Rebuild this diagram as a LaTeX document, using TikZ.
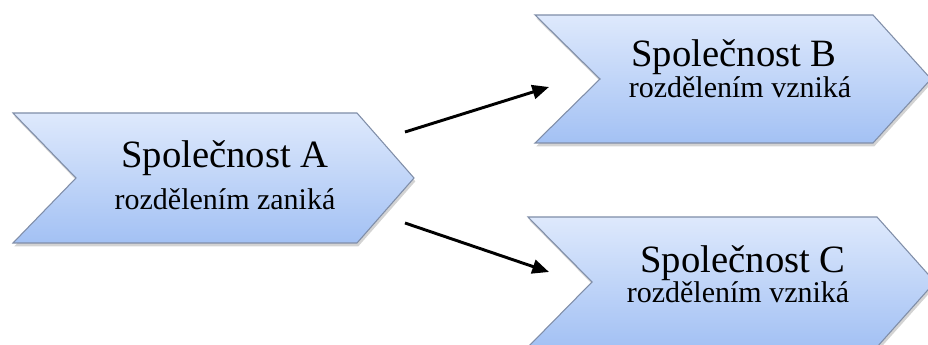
\documentclass[tikz,border=0pt]{standalone}
\usepackage{fontspec}
\setmainfont{Liberation Serif}
\usepackage{tikz}
\usetikzlibrary{arrows.meta,shadows}

\definecolor{chevtop}{RGB}{222,233,252}
\definecolor{chevbot}{RGB}{163,193,244}
\definecolor{chevline}{RGB}{128,142,168}

\tikzset{
  chev/.style={draw=chevline, line width=0.8pt, top color=chevtop, bottom color=chevbot,
    drop shadow={shadow xshift=1pt, shadow yshift=-2.5pt, opacity=0.35}},
  title/.style={anchor=base, inner sep=0pt, font=\rmfamily\fontsize{29}{33}\selectfont},
  sub/.style={anchor=base, inner sep=0pt, font=\rmfamily\fontsize{22.5}{26}\selectfont},
  link/.style={line width=2.2pt, -{Triangle[length=12.5pt,width=10.5pt]}}
}

\begin{document}
\begin{tikzpicture}[x=0.75pt,y=-0.75pt]
 \useasboundingbox (0,0) rectangle (928,345);
 \clip (0,0) rectangle (928,345);

 % chevrons
 \path [chev] (13,113) -- (357,113) -- (414,178) -- (357,243) -- (13,243) -- (76,178) -- cycle;
 \path [chev] (535,15) -- (873,15) -- (931,79) -- (873,143) -- (535,143) -- (600,79) -- cycle;
 \path [chev] (528,217) -- (877,217) -- (935,282) -- (877,347) -- (528,347) -- (592,282) -- cycle;

 \node [title] (aTitle) at (225,168) {Společnost A};
 \node [sub]   (aSub)   at (225,210) {rozdělením zaniká};
 \node [title] (bTitle) at (734,67)  {Společnost B};
 \node [sub]   (bSub)   at (740,98)  {rozdělením vzniká};
 \node [title] (cTitle) at (743,273) {Společnost C};
 \node [sub]   (cSub)   at (738,303) {rozdělením vzniká};

 \coordinate (aOutB) at (405,132);
 \coordinate (bIn)   at (549,87);
 \coordinate (aOutC) at (405,223);
 \coordinate (cIn)   at (549,272);

 \draw [link] (aOutB) -- (bIn);
 \draw [link] (aOutC) -- (cIn);
\end{tikzpicture}
\end{document}
